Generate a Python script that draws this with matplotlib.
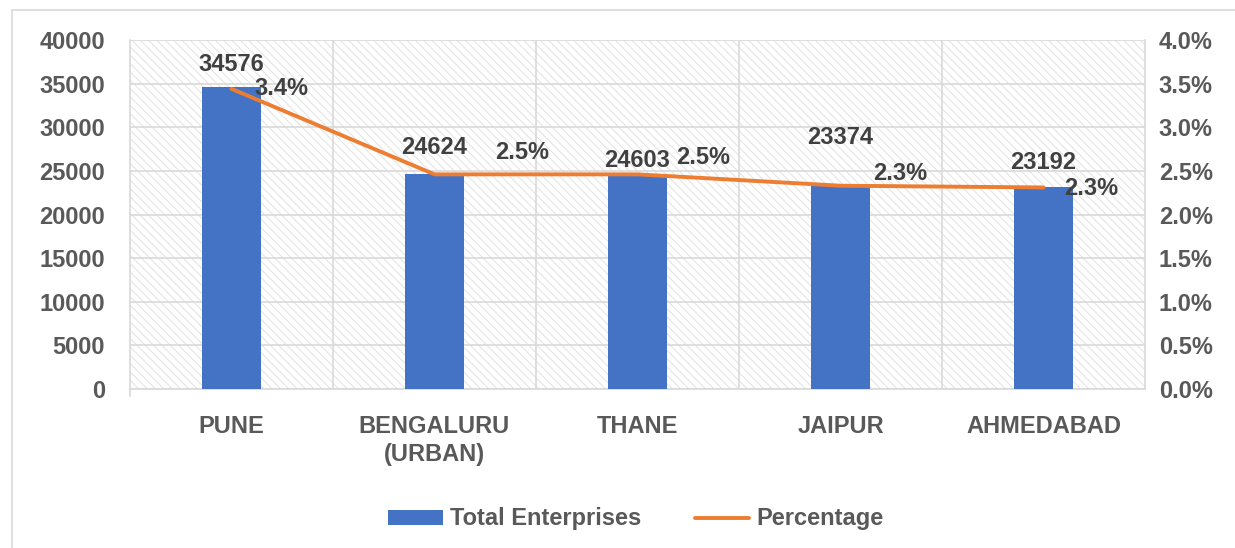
import numpy as np
import matplotlib.pyplot as plt
from matplotlib.patches import Rectangle, Patch
from matplotlib.lines import Line2D

plt.rcParams['font.family'] = ['Liberation Sans', 'DejaVu Sans']
plt.rcParams['hatch.linewidth'] = 0.7

# data
districts = ['PUNE', 'BENGALURU\n(URBAN)', 'THANE', 'JAIPUR', 'AHMEDABAD']
enterprises = [34576, 24624, 24603, 23374, 23192]
percentage = [3.44, 2.46, 2.46, 2.33, 2.31]

# label offsets (points) - hand placed like the original
bar_offsets = [(0, 8), (0, 11), (0, 2), (0, 26), (0, 9)]
pct_offsets = [(36, 0), (63, 16), (47, 12), (43, 9), (34, -1)]

txt = '#595959'
blue = '#4472c4'
orange = '#ed7d31'
fs = 17

fig = plt.figure(figsize=(12.35, 5.48), dpi=100)
fig.patches.append(Rectangle((12 / 1235, -0.01), 1.0, 1 - 10 / 548 + 0.01,
                             transform=fig.transFigure, fill=False,
                             edgecolor='#d9d9d9', linewidth=1.2))
ax = fig.add_axes([130 / 1235, 1 - 389 / 548, 1015 / 1235, 349 / 548])
ax2 = ax.twinx()

# hatched plot area
ax.add_patch(Rectangle((0, 0), 1, 1, transform=ax.transAxes, facecolor='white',
                       edgecolor='#e2e2e2', hatch='\\\\\\\\', linewidth=0, zorder=0))

x = np.arange(len(districts))
ax.bar(x, enterprises, width=0.29, color=blue, zorder=3)
ax2.plot(x, percentage, color=orange, linewidth=2.8, solid_capstyle='round', zorder=4)

ax.set_xlim(-0.5, len(districts) - 0.5)
ax.set_ylim(0, 40000)
ax.set_yticks(np.arange(0, 40001, 5000))
ax2.set_ylim(0, 4.0)
ax2.set_yticks(np.arange(0, 4.01, 0.5))
ax2.set_yticklabels([f'{v:.1f}%' for v in np.arange(0, 4.01, 0.5)])

ax.grid(axis='y', color='#d9d9d9', linewidth=1.2, zorder=1)
ax.set_axisbelow(True)
for b in np.arange(0.5, len(districts) - 1, 1.0):
    ax.axvline(b, color='#d9d9d9', linewidth=1.2, zorder=1)

ax.set_xticks(x)
ax.set_xticklabels(districts, fontsize=fs, fontweight='bold', color=txt,
                   linespacing=1.25, va='top')
for lbl in ax.get_yticklabels() + ax2.get_yticklabels():
    lbl.set_fontsize(fs)
    lbl.set_fontweight('bold')
    lbl.set_color(txt)

ax.tick_params(axis='x', length=0, pad=19)
ax.tick_params(axis='y', length=0, pad=18)
ax2.tick_params(axis='y', length=0, pad=10)

for a in (ax, ax2):
    for s in a.spines.values():
        s.set_visible(False)
for side in ('left', 'bottom', 'right'):
    ax.spines[side].set_visible(True)
    ax.spines[side].set_color('#d9d9d9')
    ax.spines[side].set_linewidth(1.2)
ax.spines['left'].set_bounds(-800, 40000)

for i, v in enumerate(enterprises):
    ax.annotate(str(v), (x[i], v), xytext=bar_offsets[i], textcoords='offset points',
                ha='center', va='bottom', fontsize=fs, fontweight='bold', color='#404040',
                zorder=6)
for i, v in enumerate(percentage):
    ax2.annotate(f'{v:.1f}%', (x[i], v), xytext=pct_offsets[i], textcoords='offset points',
                 ha='center', va='center', fontsize=fs, fontweight='bold', color='#404040',
                 zorder=6)

handles = [Patch(facecolor=blue, edgecolor='none'),
           Line2D([0], [0], color=orange, linewidth=2.8, solid_capstyle='round')]
fig.legend(handles, ['Total Enterprises', 'Percentage'], loc='center',
           bbox_to_anchor=(0.515, 1 - 519 / 548), ncol=2, frameon=False,
           prop={'size': fs, 'weight': 'bold'}, labelcolor=txt,
           handlelength=2.3, handleheight=0.6, handletextpad=0.3, columnspacing=2.3)

fig.savefig('out.png', dpi=100)
